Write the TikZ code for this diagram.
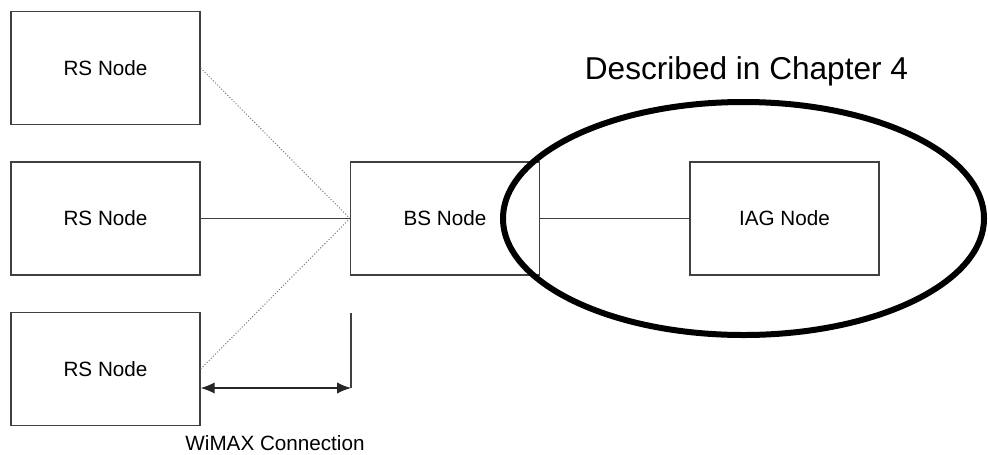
\documentclass[tikz,border=0pt]{standalone}
\usepackage{fontspec}
\setmainfont{Liberation Sans}
\usetikzlibrary{arrows.meta}
\begin{document}
\begin{tikzpicture}[x=0.75pt,y=-0.75pt,
  nodebox/.style={draw=black!75,line width=0.9pt,fill=white,
    minimum width=141.75pt,minimum height=84.75pt,inner sep=0pt,
    font=\fontsize{15.5pt}{18pt}\selectfont},
  link/.style={draw=black!75,line width=0.9pt},
  radio/.style={draw=black!55,line width=0.7pt,dash pattern=on 0.8pt off 1.4pt},
  span/.style={draw=black!85,line width=1pt,{Latex[length=10.5pt,width=8.5pt]}-{Latex[length=10.5pt,width=8.5pt]}},
  scopering/.style={draw=black,line width=4.5pt}]
\useasboundingbox (0,0) rectangle (988,454);

% relay stations, base station and gateway
\node[nodebox] (rs1) at (105.5,68) {RS Node};
\node[nodebox] (rs2) at (105.5,218.5) {RS Node};
\node[nodebox] (rs3) at (105.5,369) {RS Node};
\node[nodebox] (bs)  at (445,218.5) {BS Node};
\node[nodebox] (iag) at (784.5,218.5) {IAG Node};

% links
\draw[radio] (rs1.east) -- (bs.west);
\draw[radio] (rs3.east) -- (bs.west);
\draw[link] (rs2.east) -- (bs.west);
\draw[link] (bs.east) -- (iag.west);

% span of the WiMAX connection
\coordinate (wtop) at (351,313);
\coordinate (wbot) at (351,388);
\draw[link] (wtop) -- (wbot);
\draw[span] (rs3.east |- wbot) -- (wbot);
\node[anchor=base,font=\fontsize{15.5pt}{18pt}\selectfont] (wlabel) at (275,450) {WiMAX Connection};

% part covered in chapter 4
\draw[scopering] (743.5,218.5) ellipse [x radius=240.5, y radius=116.5];
\node[anchor=base,font=\fontsize{23.7pt}{28pt}\selectfont] (chap) at (746.5,79) {Described in Chapter 4};
\end{tikzpicture}
\end{document}
